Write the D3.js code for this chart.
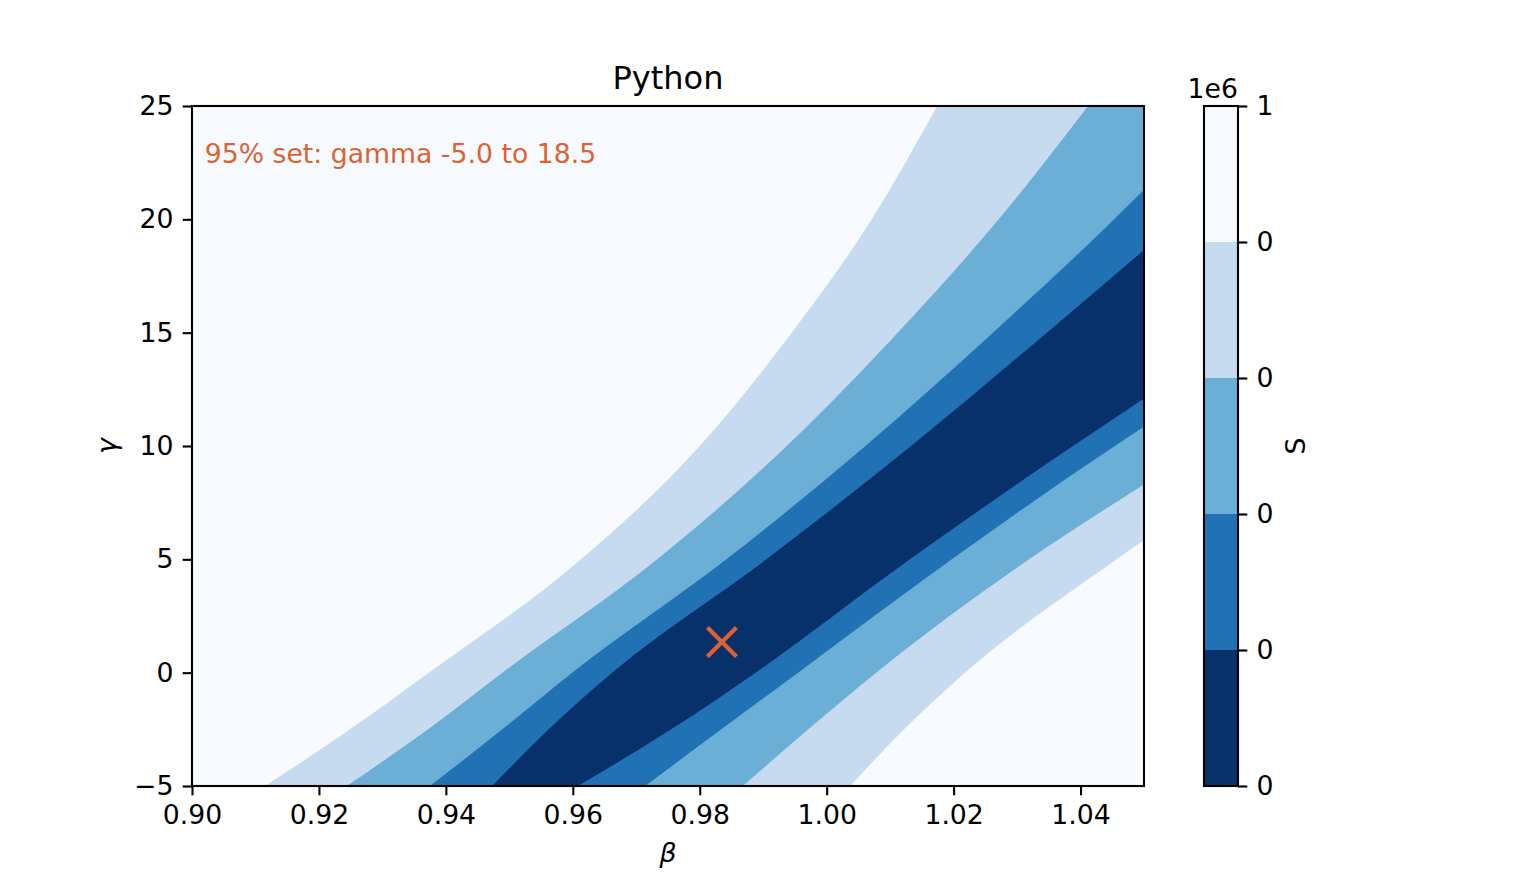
<!DOCTYPE html>
<html>
<head>
<meta charset="utf-8">
<script src="https://cdn.jsdelivr.net/npm/d3@7"></script>
<style>
  body { margin: 0; background: #ffffff; }
  svg { display: block; font-family: "DejaVu Sans", sans-serif; }
  .tick text { font-family: "DejaVu Sans", sans-serif; font-size: 26.7px; fill: #000; }
  .tick line { stroke: #000; stroke-width: 2.1px; }
</style>
</head>
<body>
<svg id="chart" width="1536" height="883"></svg>
<script>
// contour edges, [beta, gamma], from upper-left to lower-right
var edge1 = [[0.9115,-5],[0.9249,-2.5],[0.9373,0],[0.9613,5],[0.9800,10],[0.9945,15],[1.0071,20],[1.0174,25]];
var edge2 = [[0.9244,-5],[0.9372,-2.5],[0.9489,0],[0.9733,5],[0.9937,10],[1.0112,15],[1.0271,20],[1.0412,25]];
var edge3 = [[0.9375,-5],[0.9489,-2.5],[0.9599,0],[0.9842,5],[1.0061,10],[1.0262,15],[1.0453,20],[1.0500,21.3]];
var edge4 = [[0.9473,-5],[0.9562,-2.5],[0.9662,0],[0.9905,5],[1.0133,10],[1.0347,15],[1.0500,18.65]];
var edge5 = [[0.9608,-5],[0.9755,-2.5],[0.9888,0],[1.0131,5],[1.0388,10],[1.0500,12.1]];
var edge6 = [[0.9714,-5],[0.9834,-2.5],[0.9955,0],[1.0197,5],[1.0454,10],[1.0500,10.85]];
var edge7 = [[0.9868,-5],[0.9971,-2.5],[1.0078,0],[1.0319,5],[1.0500,8.3]];
var edge8 = [[1.0037,-5],[1.0122,-2.5],[1.0218,0],[1.0457,5],[1.0500,5.85]];

// band index (by level) painted on the lower-right side of each edge
var edges = [edge1, edge2, edge3, edge4, edge5, edge6, edge7, edge8];
var edgeBand = [3, 2, 1, 0, 1, 2, 3, 4];

var levels = [0, 2.71, 3.84, 6.63, 10.83, 1000000];
var bandColors = ["#08306b", "#2171b5", "#6baed6", "#c6dbef", "#f7fbff"];

var xTicks = [0.90, 0.92, 0.94, 0.96, 0.98, 1.00, 1.02, 1.04];
var yTicks = [-5, 0, 5, 10, 15, 20, 25];
var xDomain = [0.90, 1.05];
var yDomain = [-5, 25];

var best = [0.9835, 1.35];
var note = "95% set: gamma -5.0 to 18.5";
var noteAt = [0.902, 22.5];
var accent = "#de6133";

var svg = d3.select("#chart");
var pLeft = 192, pRight = 1144, pTop = 106, pBottom = 786;

var x = d3.scaleLinear().domain(xDomain).range([pLeft, pRight]);
var y = d3.scaleLinear().domain(yDomain).range([pBottom, pTop]);

svg.append("defs").append("clipPath").attr("id", "plotClip")
  .append("rect").attr("x", pLeft).attr("y", pTop).attr("width", pRight - pLeft).attr("height", pBottom - pTop);

var plot = svg.append("g").attr("clip-path", "url(#plotClip)");

// highest band fills the whole area, then each edge paints what lies to its lower right
plot.append("rect").attr("x", pLeft).attr("y", pTop).attr("width", pRight - pLeft).attr("height", pBottom - pTop)
  .attr("fill", bandColors[4]);

var edgeLine = d3.line().x(function(d){return x(d[0]);}).y(function(d){return y(d[1]);}).curve(d3.curveMonotoneX);

function lowerRight(edge) {
  var last = edge[edge.length - 1];
  var p = edgeLine(edge);
  if (last[1] >= yDomain[1]) { p += "L" + x(xDomain[1]) + "," + y(yDomain[1]); }
  p += "L" + x(xDomain[1]) + "," + y(yDomain[0]) + "Z";
  return p;
}

plot.selectAll("path.band").data(edges).enter().append("path")
  .attr("class", "band")
  .attr("d", lowerRight)
  .attr("fill", function(d, i){return bandColors[edgeBand[i]];});

// best point marker
var bx = x(best[0]), by = y(best[1]), ms = 14.5;
svg.append("path")
  .attr("d", "M" + (bx - ms) + "," + (by - ms) + "L" + (bx + ms) + "," + (by + ms) +
             "M" + (bx - ms) + "," + (by + ms) + "L" + (bx + ms) + "," + (by - ms))
  .attr("stroke", accent).attr("stroke-width", 4.2).attr("fill", "none");

svg.append("text").attr("x", x(noteAt[0])).attr("y", y(noteAt[1]))
  .attr("font-size", "26.7px").attr("fill", accent).text(note);

// axes
var xAxis = d3.axisBottom(x).tickValues(xTicks).tickFormat(d3.format(".2f"))
  .tickSize(9.3).tickPadding(9.3).tickSizeOuter(0);
var yAxis = d3.axisLeft(y).tickValues(yTicks).tickFormat(d3.format("d"))
  .tickSize(9.3).tickPadding(9.3).tickSizeOuter(0);

svg.append("g").attr("transform", "translate(0," + pBottom + ")").call(xAxis)
  .call(function(g){g.select(".domain").remove();});
svg.append("g").attr("transform", "translate(" + pLeft + ",0)").call(yAxis)
  .call(function(g){g.select(".domain").remove();});

svg.append("rect").attr("x", pLeft).attr("y", pTop).attr("width", pRight - pLeft).attr("height", pBottom - pTop)
  .attr("fill", "none").attr("stroke", "#000").attr("stroke-width", 2.1);

svg.append("text").attr("x", (pLeft + pRight) / 2).attr("y", 89).attr("text-anchor", "middle")
  .attr("font-size", "32px").text("Python");
svg.append("text").attr("x", (pLeft + pRight) / 2).attr("y", 862).attr("text-anchor", "middle")
  .attr("font-size", "26.7px").attr("font-style", "italic").text("β");
svg.append("text").attr("transform", "translate(116," + (pTop + pBottom) / 2 + ") rotate(-90)")
  .attr("text-anchor", "middle").attr("font-size", "26.7px").attr("font-style", "italic").text("γ");

// colorbar, one equal slot per band
var cbLeft = 1204, cbRight = 1238;
var cb = d3.scaleLinear().domain([0, levels.length - 1]).range([pBottom, pTop]);

svg.selectAll("rect.cb").data(bandColors).enter().append("rect")
  .attr("class", "cb")
  .attr("x", cbLeft).attr("width", cbRight - cbLeft)
  .attr("y", function(d, i){return cb(i + 1);})
  .attr("height", function(d, i){return cb(i) - cb(i + 1);})
  .attr("fill", function(d){return d;});

var cbAxis = d3.axisRight(cb).tickValues(d3.range(levels.length))
  .tickFormat(function(i){return d3.format(".0f")(levels[i] / 1e6);})
  .tickSize(9.3).tickPadding(9.3).tickSizeOuter(0);
svg.append("g").attr("transform", "translate(" + cbRight + ",0)").call(cbAxis)
  .call(function(g){g.select(".domain").remove();});

svg.append("rect").attr("x", cbLeft).attr("y", pTop).attr("width", cbRight - cbLeft).attr("height", pBottom - pTop)
  .attr("fill", "none").attr("stroke", "#000").attr("stroke-width", 2.1);

svg.append("text").attr("x", cbRight).attr("y", 98).attr("text-anchor", "end")
  .attr("font-size", "26.7px").text("1e6");
svg.append("text").attr("transform", "translate(1305," + (pTop + pBottom) / 2 + ") rotate(-90)")
  .attr("text-anchor", "middle").attr("font-size", "26.7px").text("S");
</script>
</body>
</html>
